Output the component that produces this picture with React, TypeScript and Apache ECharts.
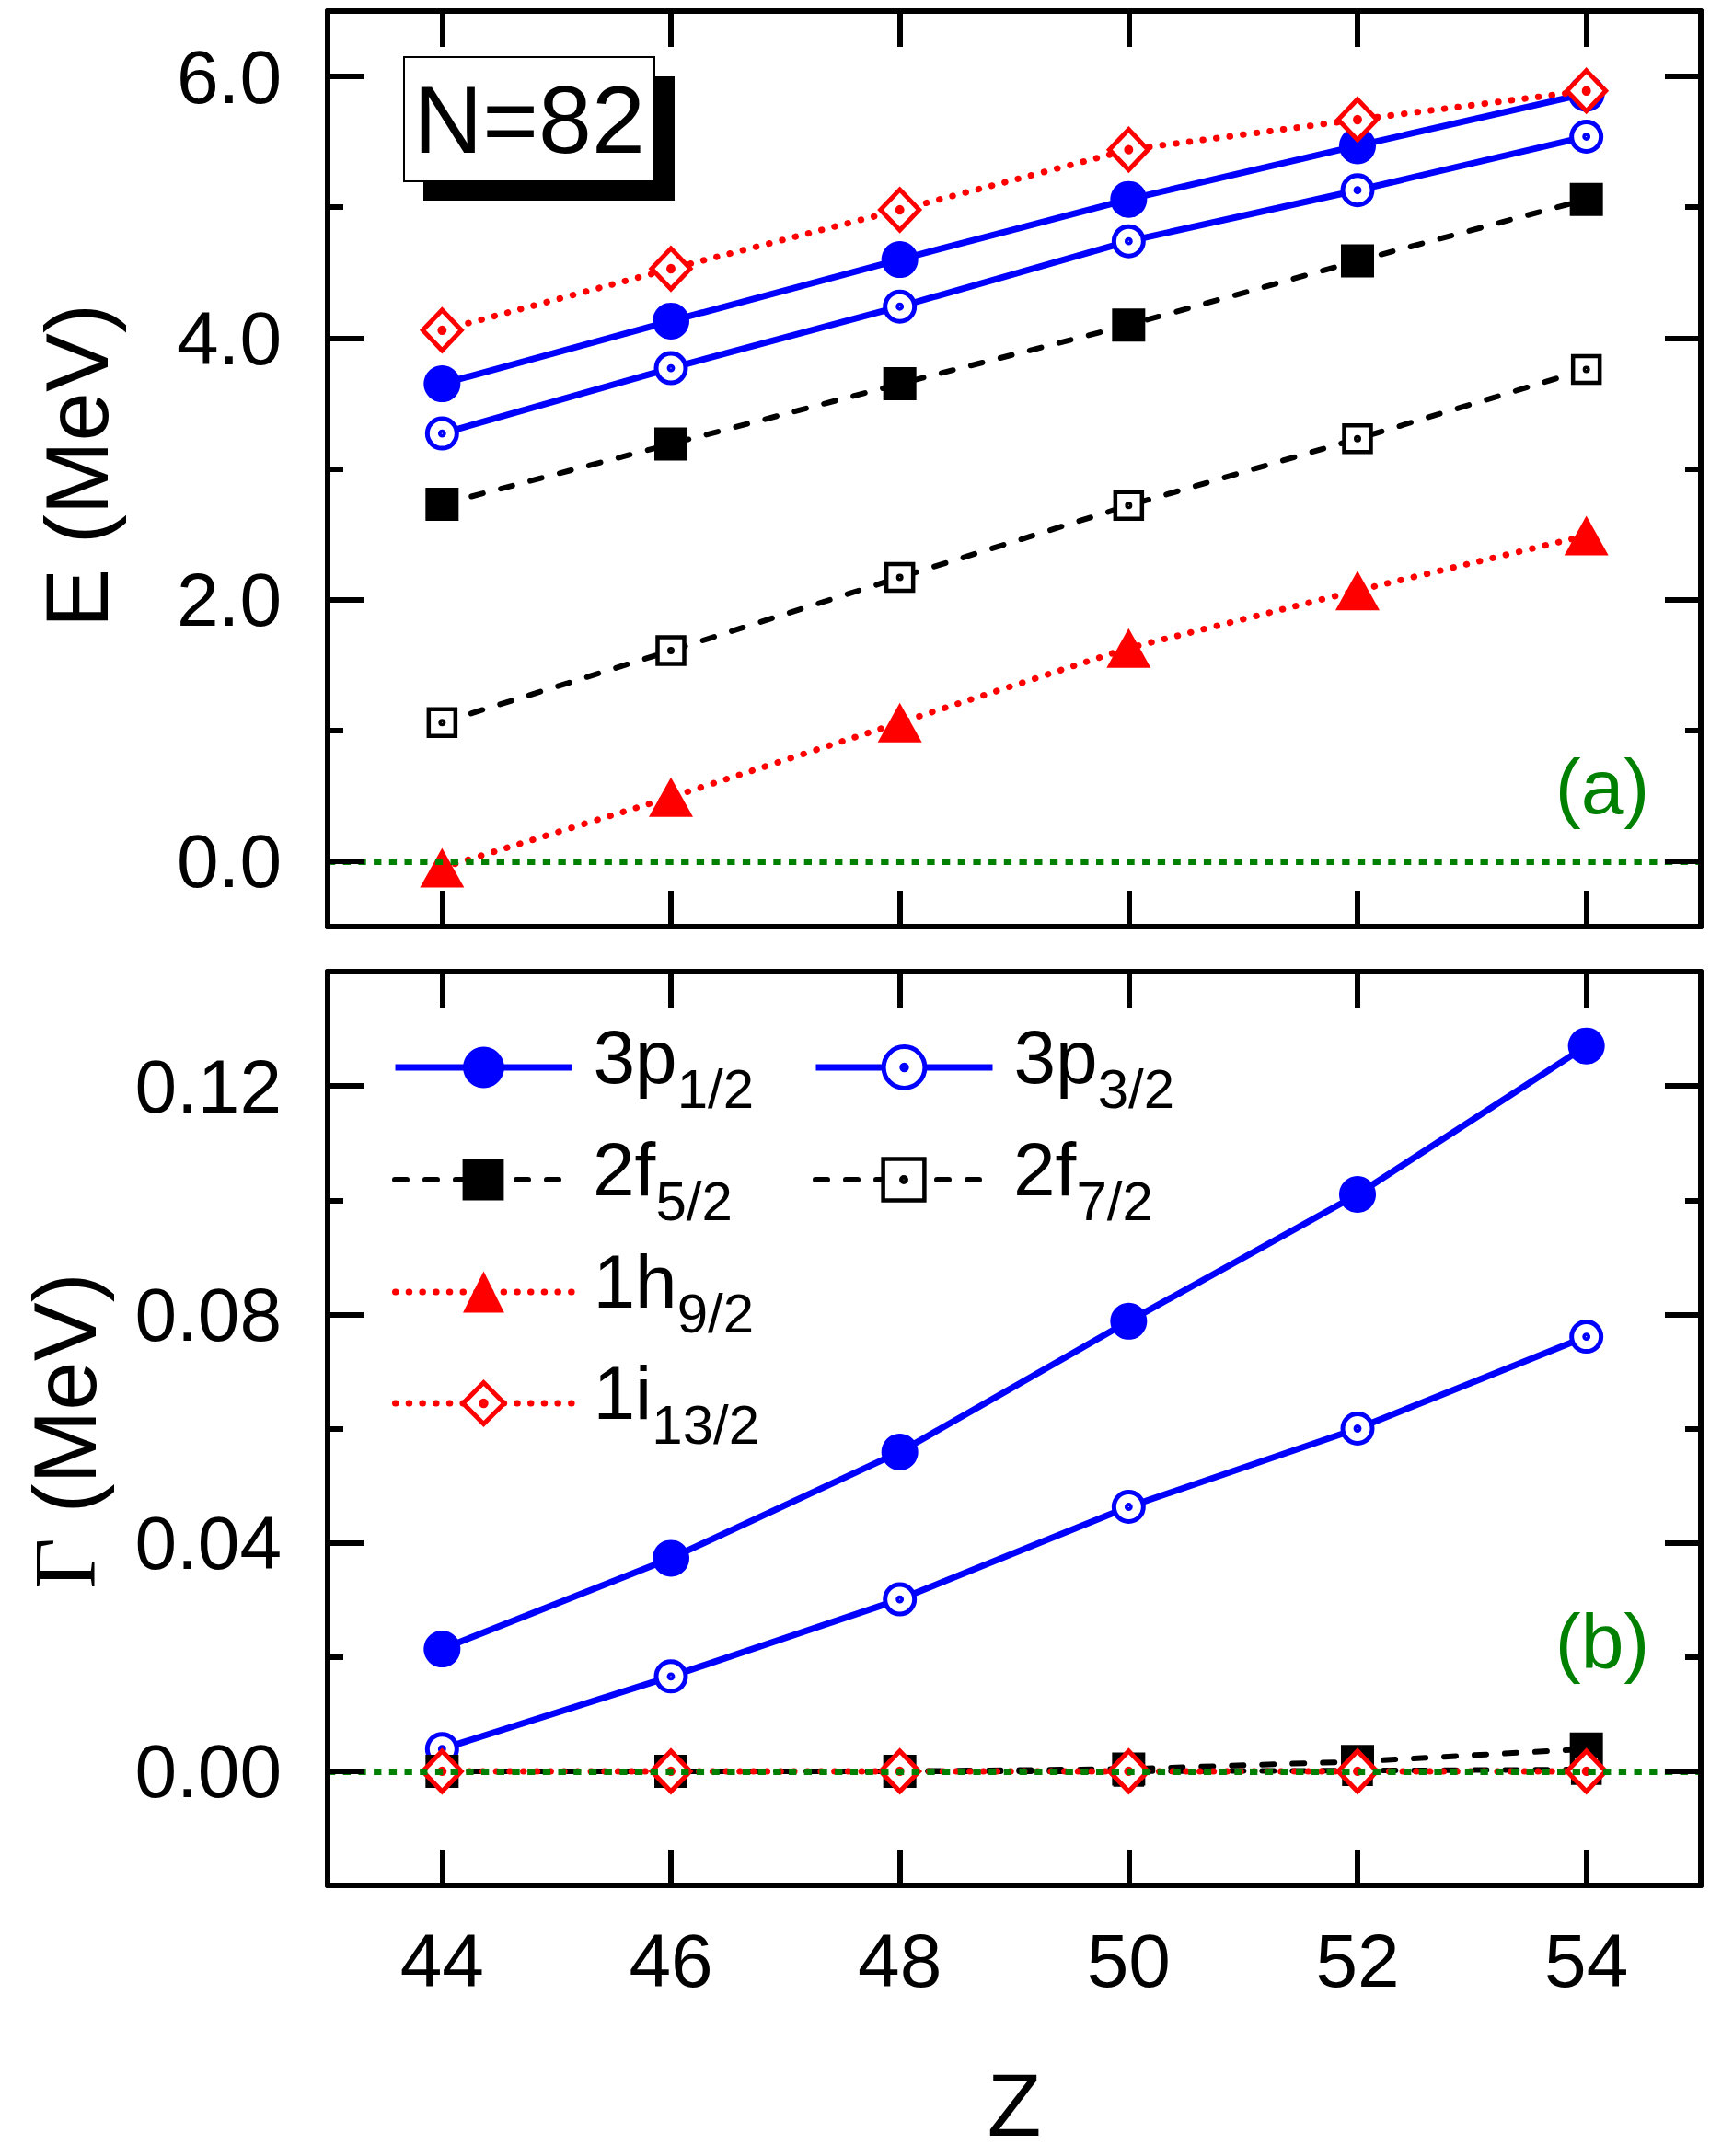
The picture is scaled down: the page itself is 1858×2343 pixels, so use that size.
import { useEffect, useRef } from 'react';
import * as echarts from 'echarts';

// proton number and tick positions
const zValues = [44, 46, 48, 50, 52, 54];
const zTicks = [44, 46, 48, 50, 52, 54];
const eTicks = [0, 2, 4, 6];
const eMinorTicks = [1, 3, 5];
const gTicks = [0, 0.04, 0.08, 0.12];
const gMinorTicks = [0.02, 0.06, 0.1];

const stateNames = ['3p1/2', '3p3/2', '2f5/2', '2f7/2', '1h9/2', '1i13/2'];

// (a) resonance energies, MeV
const e3p12 = [3.65, 4.13, 4.6, 5.06, 5.47, 5.87];
const e3p32 = [3.27, 3.77, 4.24, 4.74, 5.13, 5.54];
const e2f52 = [2.73, 3.19, 3.65, 4.1, 4.59, 5.06];
const e2f72 = [1.06, 1.61, 2.17, 2.72, 3.23, 3.76];
const e1h92 = [-0.05, 0.49, 1.06, 1.63, 2.07, 2.49];
const e1i132 = [4.06, 4.53, 4.98, 5.44, 5.67, 5.89];

// (b) widths, MeV (1h9/2 has no width points drawn)
const g3p12 = [0.0214, 0.0373, 0.0559, 0.0788, 0.101, 0.127];
const g3p32 = [0.0039, 0.0166, 0.0301, 0.0463, 0.06, 0.0761];
const g2f52 = [0, 0, 0, 0.0004, 0.0017, 0.0039];
const g2f72 = [0, 0, 0, 0, 0.0001, 0.0003];
const g1h92: number[] = [];
const g1i132 = [0, 0, 0, 0, 0, 0];

const energies = [e3p12, e3p32, e2f52, e2f72, e1h92, e1i132];
const widths = [g3p12, g3p32, g2f52, g2f72, g1h92, g1i132];

const FONT = 'Liberation Sans, Arial, sans-serif';
const BLUE = '#0000ff';
const RED = '#ff0000';
const BLACK = '#000000';
const GREEN = '#008000';

const DOT = 'M50,44A6,6,0,1,1,50,56A6,6,0,1,1,50,44Z';
const RING = 'path://M50,0A50,50,0,1,1,50,100A50,50,0,1,1,50,0Z' + DOT;
const BOX = 'path://M0,0L100,0L100,100L0,100Z' + DOT;
const DIAMOND = 'path://M50,0L100,50L50,100L0,50Z' + DOT;

const solid = { color: BLUE, width: 7, type: 'solid' };
const dashed = { color: BLACK, width: 6, type: [13, 20], cap: 'round' };
const dotted = { color: RED, width: 7, type: [0.5, 14.2], cap: 'round' };

const looks: any[] = [
  { symbol: 'circle', symbolSize: 40, itemStyle: { color: BLUE }, lineStyle: solid },
  { symbol: RING, symbolSize: 32, itemStyle: { color: '#fff', borderColor: BLUE, borderWidth: 5 }, lineStyle: solid },
  { symbol: 'rect', symbolSize: 36, itemStyle: { color: BLACK }, lineStyle: dashed },
  { symbol: BOX, symbolSize: 29, itemStyle: { color: '#fff', borderColor: BLACK, borderWidth: 4.5 }, lineStyle: dashed },
  { symbol: 'triangle', symbolSize: [48, 43], itemStyle: { color: RED }, lineStyle: dotted },
  { symbol: DIAMOND, symbolSize: [42, 44], itemStyle: { color: '#fff', borderColor: RED, borderWidth: 5 }, lineStyle: dotted },
];

// legend rows: [name, left, row centre]
const legendSlots: [string, number, number][] = [
  ['3p1/2', 426, 1158],
  ['3p3/2', 883, 1158],
  ['2f5/2', 426, 1280],
  ['2f7/2', 883, 1280],
  ['1h9/2', 426, 1402],
  ['1i13/2', 426, 1523],
];

const zeroLine = {
  silent: true,
  symbol: 'none',
  label: { show: false },
  lineStyle: { color: GREEN, width: 7, type: [8.3, 8.4], cap: 'butt' },
  data: [{ yAxis: 0 }],
  z: 5,
};

function xAxis(gridIndex: number, position: string, labels: boolean) {
  return {
    type: 'value',
    gridIndex,
    position,
    min: 43,
    max: 55,
    z: 6,
    axisLine: { show: true, onZero: false, lineStyle: { color: BLACK, width: 6 } },
    axisTick: { show: true, inside: true, length: 39, lineStyle: { color: BLACK, width: 6 }, customValues: zTicks },
    axisLabel: { show: labels, customValues: zTicks, margin: 40, fontSize: 82, color: BLACK, fontFamily: FONT },
    splitLine: { show: false },
  };
}

function yAxis(gridIndex: number, position: string, min: number, max: number, ticks: number[], minor: boolean, labels: boolean, digits: number) {
  return {
    type: 'value',
    gridIndex,
    position,
    min,
    max,
    z: 6,
    axisLine: { show: !minor, onZero: false, lineStyle: { color: BLACK, width: 6 } },
    axisTick: { show: true, inside: true, length: minor ? 17 : 39, lineStyle: { color: BLACK, width: 6 }, customValues: ticks },
    axisLabel: {
      show: labels,
      customValues: ticks,
      margin: 50,
      fontSize: 82,
      color: BLACK,
      fontFamily: FONT,
      formatter: (v: number) => v.toFixed(digits),
    },
    splitLine: { show: false },
  };
}

function legendLabel(name: string) {
  return `{m|${name.slice(0, 2)}}{s|${name.slice(2)}}`;
}

function legend([name, left, centre]: [string, number, number]) {
  const look = looks[stateNames.indexOf(name)];
  return {
    left,
    top: centre - 51,
    padding: 0,
    itemWidth: 192,
    itemHeight: 56,
    selectedMode: false,
    data: [name],
    formatter: legendLabel,
    itemStyle: { borderWidth: look.itemStyle.borderWidth || 0 },
    lineStyle: { width: look.lineStyle.width, type: look.lineStyle.type, cap: look.lineStyle.cap || 'butt' },
    textStyle: {
      color: BLACK,
      fontSize: 82,
      fontFamily: FONT,
      padding: [0, 0, 0, 18],
      rich: {
        m: { fontSize: 82, lineHeight: 100, verticalAlign: 'top', fontFamily: FONT, color: BLACK },
        s: { fontSize: 60, verticalAlign: 'top', padding: [46, 0, 0, 0], fontFamily: FONT, color: BLACK },
      },
    },
  };
}

function buildSeries(values: number[][], xAxisIndex: number, yAxisIndex: number) {
  return stateNames.map((name, i) => ({
    name,
    type: 'line',
    xAxisIndex,
    yAxisIndex,
    data: values[i].map((v, k) => [zValues[k], v]),
    symbol: looks[i].symbol,
    symbolSize: looks[i].symbolSize,
    itemStyle: looks[i].itemStyle,
    lineStyle: looks[i].lineStyle,
    clip: false,
    emphasis: { disabled: true },
    ...(i === stateNames.length - 1 ? { markLine: zeroLine } : {}),
  }));
}

function text(x: number, y: number, content: string, fontSize: number, fill: string, extra: any = {}) {
  return {
    type: 'text',
    x,
    y,
    z: 20,
    ...extra,
    style: {
      text: content,
      fontSize,
      fontFamily: FONT,
      fill,
      align: 'center',
      verticalAlign: 'middle',
      textAlign: 'center',
      textVerticalAlign: 'middle',
      ...(extra.style || {}),
    },
  };
}

export default function App() {
  const chartRef = useRef<HTMLDivElement>(null);

  useEffect(() => {
    if (!chartRef.current) return;
    const chart = echarts.init(chartRef.current, undefined, { renderer: 'svg' });

    const option: any = {
      animation: false,
      backgroundColor: '#ffffff',
      textStyle: { fontFamily: FONT },
      grid: [
        { left: 356, top: 12, width: 1492, height: 995 },
        { left: 356, top: 1056, width: 1492, height: 993 },
      ],
      xAxis: [
        xAxis(0, 'bottom', false),
        xAxis(0, 'top', false),
        xAxis(1, 'bottom', true),
        xAxis(1, 'top', false),
      ],
      yAxis: [
        yAxis(0, 'left', -0.5, 6.5, eTicks, false, true, 1),
        yAxis(0, 'left', -0.5, 6.5, eMinorTicks, true, false, 1),
        yAxis(0, 'right', -0.5, 6.5, eTicks, false, false, 1),
        yAxis(0, 'right', -0.5, 6.5, eMinorTicks, true, false, 1),
        yAxis(1, 'left', -0.02, 0.14, gTicks, false, true, 2),
        yAxis(1, 'left', -0.02, 0.14, gMinorTicks, true, false, 2),
        yAxis(1, 'right', -0.02, 0.14, gTicks, false, false, 2),
        yAxis(1, 'right', -0.02, 0.14, gMinorTicks, true, false, 2),
      ],
      legend: legendSlots.map(legend),
      series: [...buildSeries(energies, 0, 0), ...buildSeries(widths, 2, 4)],
      graphic: [
        { type: 'rect', z: 18, shape: { x: 460, y: 83, width: 273, height: 135 }, style: { fill: BLACK } },
        { type: 'rect', z: 19, shape: { x: 439, y: 62, width: 272, height: 135 }, style: { fill: '#ffffff', stroke: BLACK, lineWidth: 2 } },
        text(575, 130, 'N=82', 104, BLACK),
        text(1741, 855, '(a)', 84, GREEN),
        text(1741, 1784, '(b)', 84, GREEN),
        text(83, 506, 'E (MeV)', 96, BLACK, { rotation: Math.PI / 2 }),
        text(70, 1555, '{g|Γ} (MeV)', 96, BLACK, {
          rotation: Math.PI / 2,
          style: { rich: { g: { fontFamily: 'Liberation Serif, DejaVu Serif, serif', fontSize: 96, fill: BLACK } } },
        }),
        text(1102, 2287, 'Z', 96, BLACK),
      ],
    };

    chart.setOption(option);

    return () => {
      chart.dispose();
    };
  }, []);

  return <div ref={chartRef} style={{ position: 'absolute', left: 0, top: 0, width: 1858, height: 2343 }} />;
}
